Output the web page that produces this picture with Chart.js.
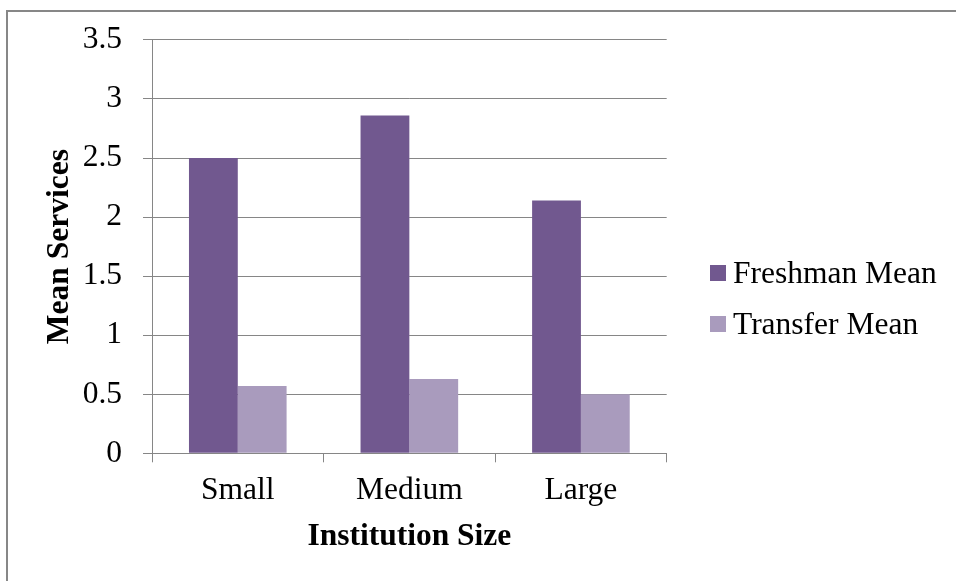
<!DOCTYPE html>
<html>
<head>
<meta charset="utf-8">
<script src="https://cdn.jsdelivr.net/npm/chart.js@4.4.1/dist/chart.umd.min.js"></script>
<style>
  html, body { margin: 0; padding: 0; background: #fff; overflow: hidden; }
  #wrap { position: relative; width: 956px; height: 581px; }
  #frame {
    position: absolute; left: 6px; top: 10px; width: 1200px; height: 800px;
    border-left: 2px solid #878787; border-top: 2px solid #878787;
    pointer-events: none;
  }
  #mainChart { position: absolute; left: 0; top: 0; }
  #legend {
    position: absolute; left: 710px; top: 247.5px;
    margin: 0; padding: 0; list-style: none;
    font-family: "Liberation Serif", "Times New Roman", serif;
    font-size: 31.5px; color: #000; white-space: nowrap;
  }
  #legend li { display: flex; align-items: center; height: 51px; }
  #legend .swatch { display: inline-block; width: 16px; height: 16px; margin-right: 7px; }
</style>
</head>
<body>
<div id="wrap">
  <div id="frame"></div>
  <canvas id="mainChart" width="956" height="581"></canvas>
  <ul id="legend"></ul>
</div>
<script>
// institution sizes and the mean number of services per group
const sizes = ["Small", "Medium", "Large"];
const freshmanMean = [2.5, 2.86, 2.14];
const transferMean = [0.57, 0.63, 0.5];
const yMin = 0;
const yMax = 3.5;
const yStep = 0.5;

const gridColour = "#868686";
const serif = "'Liberation Serif', 'Times New Roman', serif";

Chart.defaults.font.family = serif;
Chart.defaults.color = "#000";

const ctx = document.getElementById("mainChart");
const chart = new Chart(ctx, {
  type: "bar",
  data: {
    labels: sizes,
    datasets: [
      {
        label: "Freshman Mean",
        data: freshmanMean,
        backgroundColor: "#71588F",
        borderWidth: 0,
      },
      {
        label: "Transfer Mean",
        data: transferMean,
        backgroundColor: "#A99BBD",
        borderWidth: 0,
      },
    ],
  },
  options: {
    responsive: false,
    animation: false,
    layout: {
      padding: { top: 23.5, bottom: 7.5, left: 10, right: 289.3 },
    },
    datasets: {
      bar: { categoryPercentage: 0.569, barPercentage: 1 },
    },
    scales: {
      x: {
        grid: {
          display: true,
          drawOnChartArea: false, // only the little ticks between groups
          drawTicks: true,
          tickLength: 9,
          color: gridColour,
        },
        border: { display: true, color: gridColour, width: 1 },
        ticks: { font: { family: serif, size: 31.5 }, padding: 10 },
        title: {
          display: true,
          text: "Institution Size",
          font: { family: serif, size: 31.5, weight: "bold" },
          padding: { top: 0, bottom: 18.2 },
        },
        afterFit: (scale) => {
          scale.height = 120.2;
        },
      },
      y: {
        min: yMin,
        max: yMax,
        ticks: {
          stepSize: yStep,
          font: { family: serif, size: 31.5 },
          padding: 21,
          callback: (v) => String(v),
        },
        grid: {
          color: gridColour,
          tickLength: 9,
          drawTicks: true,
        },
        border: { display: true, color: gridColour, width: 1 },
        title: {
          display: true,
          text: "Mean Services",
          font: { family: serif, size: 31.5, weight: "bold" },
          padding: { top: 30.5, bottom: 0 },
        },
        afterFit: (scale) => {
          scale.width = 142;
        },
      },
    },
    plugins: {
      legend: { display: false },
      tooltip: { enabled: false },
    },
  },
});

// legend list next to the plot, one row per dataset
const legendList = document.getElementById("legend");
chart.data.datasets.forEach((ds) => {
  const li = document.createElement("li");
  const swatch = document.createElement("span");
  swatch.className = "swatch";
  swatch.style.background = ds.backgroundColor;
  li.appendChild(swatch);
  li.appendChild(document.createTextNode(ds.label));
  legendList.appendChild(li);
});
</script>
</body>
</html>
